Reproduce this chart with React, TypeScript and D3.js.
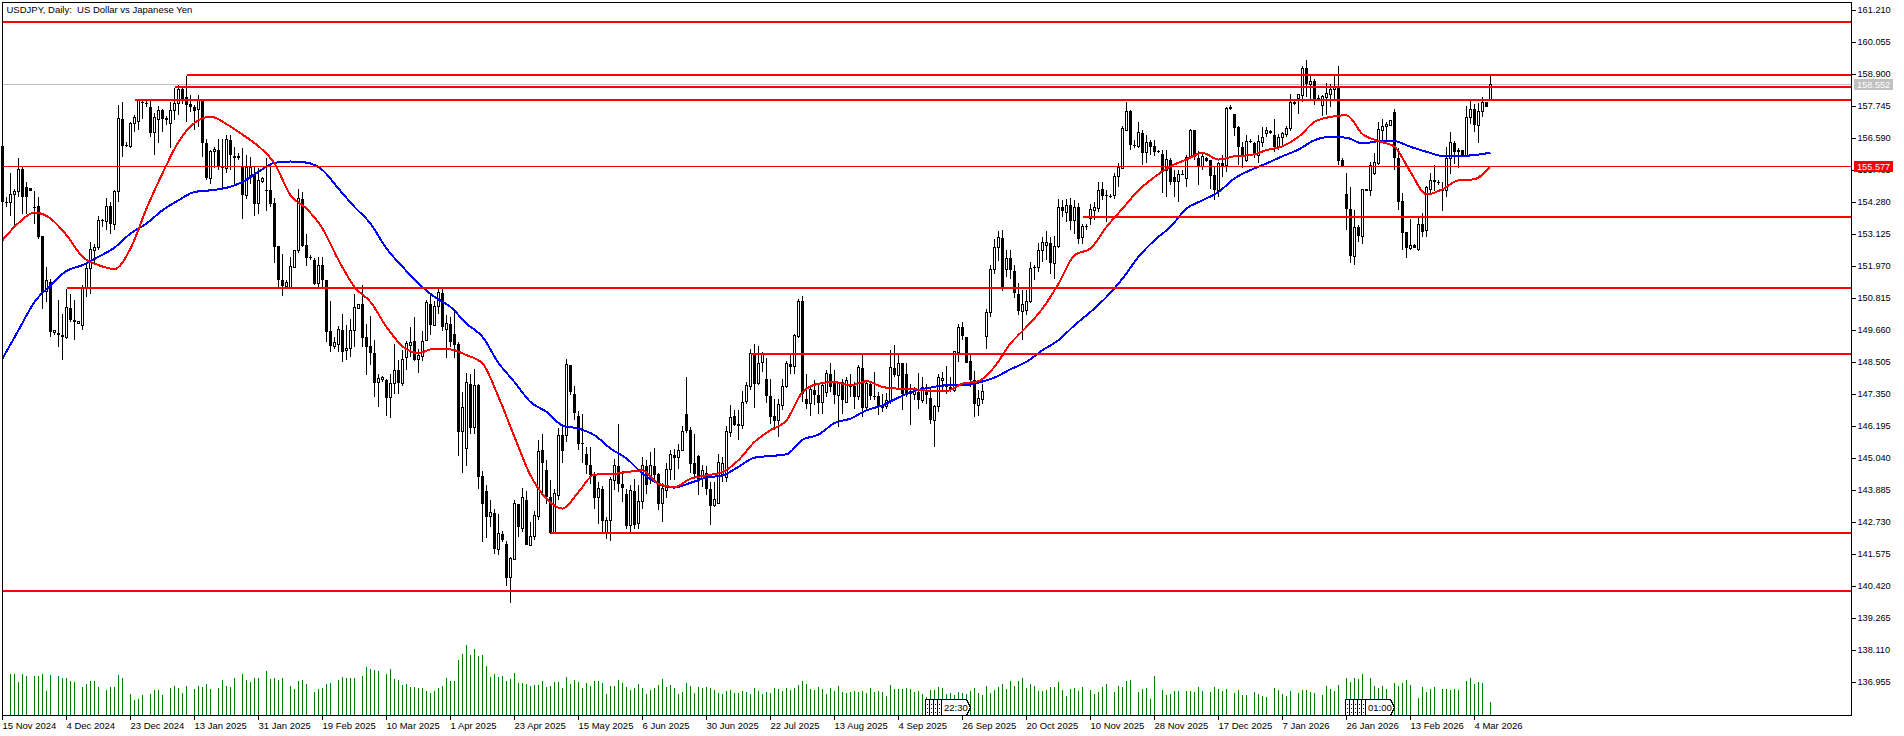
import { useEffect, useRef } from "react";
import * as d3 from "d3";

// open, high, low, close per daily bar
const ohlc: number[][] = [
  [156.31,156.31,154.18,154.30],[154.29,154.48,154.12,154.27],[154.28,155.33,153.78,154.57],[154.57,154.78,153.40,154.66],
  [154.66,155.87,154.48,155.48],[155.48,155.57,153.88,154.48],[154.84,155.02,153.88,154.48],[154.82,154.82,154.68,154.68],
  [154.13,154.70,153.52,154.11],[154.15,154.48,152.98,153.04],[153.06,153.06,150.45,151.05],[151.05,151.96,150.69,151.47],
  [151.41,151.53,149.43,149.61],[149.58,149.69,149.49,149.67],[149.58,150.75,149.07,149.51],[149.51,150.27,148.59,149.43],
  [149.40,151.17,149.37,150.49],[150.49,150.99,149.97,150.03],[150.05,150.75,149.31,149.96],[149.91,150.00,149.91,150.00],
  [149.85,151.29,149.67,151.17],[151.17,152.08,150.87,151.90],[151.90,152.86,150.99,152.58],[152.56,152.80,152.08,152.65],
  [152.65,153.78,152.56,153.64],[153.64,153.70,153.40,153.62],[153.58,154.46,153.28,154.15],[154.15,154.30,153.16,153.50],
  [153.50,154.72,153.28,154.69],[154.69,157.79,154.30,157.31],[157.31,157.91,155.93,156.32],[156.35,156.47,156.29,156.33],
  [156.29,157.19,156.26,157.13],[157.13,157.43,156.83,157.35],[157.19,158.03,156.89,157.97],[157.91,158.03,157.31,157.88],
  [157.86,157.97,157.73,157.84],[157.71,157.97,156.65,156.79],[156.79,157.51,155.99,157.35],[157.28,157.76,156.43,157.61],
  [157.63,157.67,156.83,157.30],[157.33,157.40,157.07,157.25],[157.13,157.91,156.23,157.59],[157.59,158.43,157.25,157.85],
  [157.85,158.51,157.43,158.37],[158.37,158.43,157.85,158.03],[158.09,158.84,157.19,157.80],[157.83,158.15,157.55,157.71],
  [157.71,157.79,156.89,157.59],[157.64,158.15,157.01,157.97],[157.97,158.03,155.93,156.43],[156.43,156.59,155.08,155.17],
  [155.15,156.17,154.96,156.11],[156.11,156.29,155.51,156.19],[156.19,156.59,155.45,155.59],[155.59,156.59,154.82,155.51],
  [155.51,156.71,155.35,156.56],[156.55,156.71,155.45,155.99],[155.97,156.29,154.87,155.90],[155.95,156.05,155.81,155.90],
  [155.60,156.23,153.70,154.54],[154.54,155.99,154.39,155.53],[155.27,155.93,154.96,155.53],[155.27,155.57,153.78,154.24],
  [154.24,155.51,153.88,155.08],[155.05,155.20,154.99,155.15],[154.73,155.87,153.98,154.71],[154.73,155.69,154.12,154.22],
  [154.27,154.46,152.10,152.68],[152.70,152.70,151.23,151.50],[151.50,152.41,150.90,151.26],[151.26,151.47,151.23,151.40],
  [151.23,152.32,151.21,151.96],[151.93,152.58,151.90,152.56],[152.56,154.78,152.44,154.42],[154.42,154.65,152.68,152.70],
  [152.74,153.13,151.98,152.29],[152.30,152.38,152.20,152.28],[152.22,152.26,151.29,151.35],[151.35,152.32,151.23,152.02],
  [152.02,152.32,151.23,151.47],[151.47,151.47,149.25,149.61],[149.63,150.72,148.89,149.09],[149.10,149.43,149.01,149.22],
  [149.16,149.83,148.89,149.69],[149.69,150.27,148.53,148.89],[148.94,149.85,148.59,149.01],[149.01,150.09,148.71,149.67],
  [149.67,150.96,149.07,150.49],[150.47,150.63,150.45,150.60],[150.63,151.29,149.07,149.39],[149.43,149.91,148.04,149.07],
  [149.09,150.17,148.41,148.85],[148.86,149.31,147.26,147.77],[147.77,148.10,146.90,147.92],[147.90,148.01,147.80,147.98],
  [147.89,147.92,146.57,147.23],[147.23,148.10,146.50,147.74],[147.74,149.16,147.38,148.22],[148.22,148.59,147.36,147.77],
  [147.74,148.95,147.65,148.61],[148.68,149.28,148.25,149.19],[149.12,149.79,148.71,149.21],[149.27,150.13,148.56,148.61],
  [148.63,149.01,148.13,148.75],[148.73,149.65,148.56,149.27],[149.31,150.75,149.28,150.67],[150.63,150.97,149.49,149.85],
  [149.83,150.73,149.81,150.54],[150.51,151.17,150.27,151.03],[151.03,151.17,149.63,149.79],[149.69,150.21,148.68,149.91],
  [149.91,150.15,149.07,149.25],[149.55,150.45,148.65,149.13],[149.19,149.25,145.12,146.00],[146.00,147.44,144.52,146.88],
  [145.40,148.14,144.76,147.78],[147.72,148.10,145.94,146.13],[146.16,148.26,145.94,147.68],[147.68,147.74,143.95,144.37],
  [144.40,144.58,142.03,143.39],[143.86,144.07,142.17,142.93],[142.93,143.53,142.57,143.09],[143.09,143.23,141.58,141.76],
  [141.75,143.05,141.57,142.33],[142.33,142.41,142.03,142.09],[141.97,142.06,140.44,140.74],[140.74,141.49,139.83,141.42],
  [141.40,143.55,141.37,143.41],[143.41,143.41,142.21,142.55],[142.53,143.99,142.39,143.63],[143.53,143.87,141.91,141.93],
  [141.91,142.75,141.87,142.21],[142.21,143.15,142.11,142.97],[142.93,145.72,142.83,145.28],[145.36,145.92,143.71,144.88],
  [144.61,144.98,143.41,143.65],[143.65,144.25,142.33,142.35],[142.35,143.95,142.33,143.77],[143.69,146.15,143.53,145.88],
  [145.88,146.18,144.86,145.31],[145.86,148.62,145.64,148.43],[148.43,148.43,147.32,147.44],[147.38,147.65,146.42,146.68],
  [146.59,146.76,145.34,145.58],[145.61,146.64,144.88,145.57],[145.19,145.46,144.47,144.79],[144.82,145.46,144.13,144.43],
  [144.43,144.55,143.23,143.62],[143.62,144.19,142.69,143.95],[143.95,144.04,142.33,142.79],[142.35,142.93,142.15,142.79],
  [142.79,144.37,142.06,144.28],[144.23,145.04,143.89,144.77],[144.77,146.28,143.83,144.13],[144.13,144.59,143.47,143.98],
  [143.75,143.95,142.51,142.59],[142.63,144.07,142.39,143.89],[143.86,144.31,142.51,142.63],[142.69,144.07,142.51,143.50],
  [143.47,145.10,143.23,144.79],[144.77,144.98,143.77,144.10],[144.37,145.28,144.13,144.77],[144.77,145.43,144.31,144.46],
  [144.47,144.50,143.17,143.41],[143.41,144.16,142.75,143.95],[143.89,144.86,143.63,144.64],[144.64,145.36,144.28,145.18],
  [145.18,145.40,144.28,145.06],[145.06,145.58,144.67,145.34],[145.34,146.20,145.31,146.00],[146.63,147.98,145.96,146.03],
  [146.06,146.18,144.50,144.83],[144.86,145.94,144.35,144.47],[145.12,145.16,143.71,144.31],[144.31,144.80,144.01,144.59],
  [144.50,144.76,143.71,143.95],[143.95,144.19,142.65,143.33],[143.33,144.19,143.29,143.56],[143.41,145.22,143.39,144.89],
  [144.43,145.10,144.19,144.86],[144.35,146.20,144.19,146.00],[145.97,146.96,145.80,146.52],[146.57,146.78,146.20,146.24],
  [146.30,146.78,145.72,146.22],[146.22,147.48,146.12,147.06],[147.08,147.80,147.02,147.68],[147.65,149.01,147.50,148.83],
  [148.80,149.16,146.88,147.74],[147.74,149.09,147.71,148.47],[148.49,148.89,148.17,148.83],[147.92,148.65,147.05,147.30],
  [147.29,147.92,146.28,146.52],[146.57,147.20,146.06,146.40],[146.40,147.20,145.82,146.99],[146.94,147.92,146.80,147.65],
  [147.65,148.56,147.60,148.47],[148.44,148.80,148.10,148.35],[148.35,149.55,148.10,149.49],[149.43,150.81,149.40,150.72],
  [150.72,150.90,147.08,147.38],[147.20,148.10,146.84,147.02],[147.02,147.68,146.57,147.53],[147.53,147.86,146.96,147.32],
  [147.32,147.68,146.66,147.05],[147.05,147.80,146.66,147.68],[147.42,148.25,147.26,148.10],[148.10,148.50,147.44,147.62],
  [147.77,148.22,147.02,147.32],[147.32,147.80,146.18,147.74],[147.80,147.92,146.66,147.14],[147.07,147.98,147.05,147.84],
  [147.71,148.08,147.26,147.62],[147.65,147.80,146.84,147.26],[147.26,148.41,147.14,148.31],[148.31,148.77,146.54,146.88],
  [146.88,147.86,146.84,147.74],[147.74,147.80,147.14,147.29],[147.31,148.18,147.14,147.26],[147.31,147.44,146.60,146.92],
  [146.96,147.38,146.72,146.88],[146.90,147.41,146.84,147.14],[147.08,148.95,147.02,148.31],[148.31,149.13,147.98,148.04],
  [148.02,148.80,147.53,148.47],[148.47,148.50,146.78,147.36],[148.10,148.47,147.26,147.41],[147.48,147.74,146.24,147.38],
  [147.36,147.62,147.14,147.50],[147.44,148.13,146.84,147.14],[147.14,147.98,147.05,147.62],[147.50,147.74,146.99,147.32],
  [147.24,147.62,146.30,146.42],[146.42,146.96,145.46,146.90],[146.90,148.10,146.72,147.96],[147.86,148.16,147.50,147.92],
  [147.71,148.37,147.38,147.62],[147.62,147.98,147.44,147.53],[147.50,148.92,147.44,148.89],[148.85,149.91,148.53,149.77],
  [149.77,149.95,149.33,149.45],[149.43,149.43,148.47,148.50],[148.55,148.77,147.62,147.86],[147.86,148.20,146.54,146.99],
  [146.96,147.50,146.57,147.20],[147.17,147.74,146.99,147.47],[149.43,150.45,149.01,150.31],[150.31,152.02,150.15,151.86],
  [151.86,152.98,151.69,152.65],[152.65,153.26,152.17,153.01],[153.01,153.28,151.09,151.14],[151.86,152.58,151.60,152.26],
  [152.26,152.58,151.53,151.83],[151.81,152.02,150.85,151.02],[150.99,151.38,150.21,150.37],[150.33,151.11,149.33,150.61],
  [150.37,151.11,150.21,150.69],[150.69,152.14,150.67,151.90],[151.96,152.02,151.47,151.91],[151.92,152.82,151.77,152.53],
  [152.53,153.04,152.14,152.82],[152.71,153.24,152.22,152.82],[152.82,153.04,151.71,152.08],[152.08,153.06,151.53,152.68],
  [152.68,154.42,152.65,154.10],[154.10,154.36,153.76,153.98],[153.92,154.42,153.58,154.18],[154.18,154.46,153.28,153.62],
  [153.64,154.36,153.16,154.10],[154.12,154.27,152.80,152.98],[153.01,153.50,152.77,153.40],[153.43,153.50,153.30,153.41],
  [153.70,154.24,153.46,154.03],[154.00,154.30,153.64,154.10],[154.06,155.02,153.94,154.72],[154.75,155.02,154.36,154.52],
  [154.54,154.72,153.58,154.52],[154.53,154.60,154.46,154.48],[154.52,155.35,154.42,155.23],[155.21,155.69,154.84,155.53],
  [155.51,157.03,155.48,156.95],[156.89,157.89,156.87,157.55],[157.58,157.61,156.19,156.35],[156.35,156.53,156.26,156.33],
  [156.29,157.19,156.23,156.80],[156.80,156.89,155.63,156.07],[156.07,156.71,155.69,156.44],[156.46,156.53,155.99,156.29],
  [156.31,156.55,155.95,156.11],[156.13,156.17,156.05,156.11],[156.02,156.17,154.63,155.42],[155.42,156.17,154.48,155.83],
  [155.83,155.87,154.90,155.02],[155.20,155.44,154.48,155.02],[155.05,155.47,154.30,155.30],[155.31,155.44,155.26,155.29],
  [155.15,155.99,154.84,155.90],[155.90,156.95,155.87,156.89],[156.89,156.91,155.81,155.93],[155.90,156.14,154.90,155.57],
  [155.57,156.11,155.45,155.93],[155.87,155.93,155.75,155.78],[155.81,155.83,154.78,155.24],[155.27,155.59,154.36,154.72],
  [154.72,155.75,154.48,155.69],[155.69,155.99,155.20,155.57],[155.60,157.73,155.38,157.67],[157.71,157.79,157.61,157.67],
  [157.47,157.49,156.67,156.97],[157.01,157.03,155.63,156.29],[156.29,156.47,155.54,155.93],[155.78,156.71,155.75,156.47],
  [156.50,156.59,156.43,156.47],[156.43,156.47,155.87,155.99],[155.99,156.71,155.69,156.47],[156.44,157.01,156.29,156.62],
  [156.77,157.01,156.65,156.87],[156.87,156.91,156.75,156.79],[156.71,157.28,156.11,156.29],[156.29,156.77,156.17,156.62],
  [156.62,156.83,156.29,156.77],[156.75,157.03,156.65,156.95],[156.95,158.19,156.87,157.89],[157.89,157.97,157.79,157.85],
  [158.03,158.21,157.49,158.18],[158.15,159.20,157.91,159.12],[159.12,159.44,158.09,158.57],[158.54,158.84,157.97,158.64],
  [158.66,158.72,157.79,158.03],[158.06,158.15,157.97,158.04],[157.79,158.15,157.40,158.12],[158.07,158.60,157.43,158.21],
  [158.19,158.55,157.73,158.36],[158.36,158.84,157.97,158.43],[158.45,159.21,155.63,155.78],[155.81,155.87,155.59,155.59],
  [154.60,155.33,153.28,154.06],[154.06,154.84,152.08,152.34],[152.34,154.02,152.02,153.38],[153.38,153.46,152.86,153.06],
  [153.06,154.75,152.80,154.75],[154.76,154.78,154.70,154.70],[154.70,155.75,154.51,155.60],[155.33,156.07,155.26,155.72],
  [155.69,157.19,155.63,156.91],[156.89,157.31,156.53,157.03],[157.01,157.19,156.47,157.11],[157.07,157.23,157.07,157.23],
  [157.55,157.64,155.47,155.87],[155.87,156.26,154.00,154.30],[154.33,154.63,152.58,153.18],[153.22,153.22,152.26,152.62],
  [152.62,153.70,152.56,152.73],[152.73,152.77,152.62,152.63],[152.58,153.78,152.53,153.50],[153.50,153.90,153.04,153.22],
  [153.26,154.87,153.04,154.82],[154.76,155.33,154.54,155.08],[155.08,155.63,154.70,155.02],[155.03,155.11,154.90,155.01],
  [154.77,155.02,153.98,154.70],[154.70,156.29,154.48,155.87],[155.87,156.81,155.30,156.43],[156.43,156.50,155.66,156.11],
  [156.17,156.23,155.54,156.11],[156.17,156.19,155.95,155.97],[155.97,157.76,155.93,157.35],[157.35,157.97,157.11,157.64],
  [157.64,157.85,156.82,157.07],[157.07,157.88,156.43,157.58],[157.58,158.07,157.37,157.89],[157.89,157.91,157.71,157.73],
  [158.00,158.84,157.97,158.55],
];

// tick volume in thousands, one per bar
const volumes = [
  0,0,42,42,34,42,40,0,40,40,42,25,41,1,40,38,38,35,34,0,29,32,35,35,29,0,26,29,29,41,38,0,22,16,17,21,0,22,26,26,
  21,0,28,30,28,23,30,0,27,30,29,32,27,0,28,36,30,29,38,0,42,36,34,38,38,1,45,37,38,36,38,0,30,27,35,36,32,0,24,27,
  28,32,33,0,36,39,38,38,38,0,40,49,47,46,45,0,42,47,37,36,31,32,29,29,28,28,25,23,25,28,30,38,35,35,56,62,71,61,67,60,
  61,50,39,42,39,40,35,37,43,33,33,32,30,31,31,35,29,30,34,34,28,39,32,36,34,28,33,30,35,35,33,22,30,30,36,33,29,26,28,32,
  28,22,26,28,31,37,29,31,28,22,24,33,30,23,29,28,29,28,26,23,22,25,26,23,23,25,24,22,28,25,22,24,23,28,27,25,28,26,28,31,
  35,32,27,26,29,27,22,28,25,30,24,23,24,25,24,25,23,28,24,25,24,20,31,27,27,27,28,27,24,25,22,19,26,26,29,28,22,23,21,24,
  23,22,25,28,23,21,30,23,26,29,32,27,35,30,35,38,28,32,30,25,25,26,29,29,34,26,20,27,28,25,29,0,26,22,24,29,32,0,24,30,
  29,35,36,0,24,27,28,17,40,0,26,21,22,25,25,0,25,25,24,29,25,0,24,29,27,25,27,0,23,26,21,21,0,24,22,20,19,0,28,26,
  22,20,25,0,23,26,26,24,23,0,21,30,27,25,31,0,38,34,38,37,42,0,38,30,28,30,27,0,33,30,33,36,31,0,18,29,24,27,29,0,
  27,27,26,27,26,0,35,38,32,34,33,1,14,
];

// moving averages read every fourth bar
const maStep = 4;
const fastMa = [
  152.92,153.54,153.92,153.70,153.10,152.32,152.02,151.88,152.62,154.06,155.33,156.47,157.15,157.38,157.11,156.73,
  156.31,155.69,154.54,154.06,153.34,152.20,151.23,150.69,149.79,149.09,148.85,149.01,148.98,148.77,148.47,147.26,
  145.82,144.43,143.59,143.23,143.83,144.46,144.47,144.55,144.61,144.13,144.01,144.31,144.43,144.55,144.98,145.64,
  146.06,146.42,147.44,147.74,147.80,147.68,147.83,147.62,147.56,147.54,147.48,147.48,147.74,147.83,148.35,149.19,
  149.79,150.45,151.35,152.38,152.62,153.40,154.06,154.72,155.20,155.59,155.83,156.07,155.83,155.95,155.99,156.17,
  156.31,156.65,157.19,157.37,157.43,156.75,156.50,156.29,155.38,154.57,154.76,155.08,155.12,155.60,
];
const slowMa = [
  148.65,149.67,150.69,151.29,151.81,152.02,152.32,152.65,153.16,153.52,154.00,154.36,154.66,154.72,154.81,155.02,
  155.39,155.71,155.76,155.72,155.45,154.78,154.12,153.52,152.62,151.96,151.35,150.87,150.51,149.91,149.43,148.49,
  147.80,147.08,146.72,146.23,146.12,145.88,145.40,145.04,144.50,144.13,143.99,144.16,144.35,144.43,144.74,145.07,
  145.13,145.19,145.72,145.90,146.32,146.48,146.78,146.96,147.24,147.48,147.60,147.68,147.68,147.78,147.96,148.26,
  148.53,148.95,149.31,149.85,150.33,150.87,151.53,152.32,152.92,153.40,154.06,154.36,154.66,155.15,155.45,155.69,
  155.95,156.19,156.53,156.65,156.62,156.41,156.49,156.49,156.29,156.11,155.96,155.96,155.99,156.08,
];

// horizontal levels and the bar each one starts at
const levelPrices = [160.79, 158.88, 158.44, 157.97, 153.75, 151.18, 148.80, 142.35, 140.25];
const levelStarts = [-1, 46, 43, 33, 270, 16, 187, 137, -1];
const bidPrice = 158.552;
const linePrice = 155.577;

const priceTicks = [
  161.21,160.055,158.9,157.745,156.59,155.435,154.28,153.125,151.97,150.815,149.66,148.505,
  147.35,146.195,145.04,143.885,142.73,141.575,140.42,139.265,138.11,136.955,
];
const dateLabels = [
  "15 Nov 2024","4 Dec 2024","23 Dec 2024","13 Jan 2025","31 Jan 2025","19 Feb 2025","10 Mar 2025","1 Apr 2025",
  "23 Apr 2025","15 May 2025","6 Jun 2025","30 Jun 2025","22 Jul 2025","13 Aug 2025","4 Sep 2025","26 Sep 2025",
  "20 Oct 2025","10 Nov 2025","28 Nov 2025","17 Dec 2025","7 Jan 2026","26 Jan 2026","13 Feb 2026","4 Mar 2026",
];
const dateStep = 16;

// session markers drawn over the volume panel
const markerStarts = [231, 336];
const markerStubs = [4, 5];
const markerTexts = ["22:30", "01:00"];

const fontFamily = "'Liberation Sans', sans-serif";

export default function App() {
  const containerRef = useRef<HTMLDivElement | null>(null);

  useEffect(() => {
    if (!containerRef.current) return;

    const r = containerRef.current;
    r.innerHTML = "";

    const width = 1904;
    const height = 736;
    const left = 2.5;
    const right = 1851.5;
    const top = 2.5;
    const bottom = 715.5;

    const svg = d3.select(r)
      .append("svg")
      .attr("width", width)
      .attr("height", height)
      .style("position", "absolute")
      .style("left", 0)
      .style("top", 0)
      .style("background", "#fff");

    const x = d3.scaleLinear().domain([0, 372]).range([2.5, 1490.5]);
    const y = d3.scaleLinear().domain([136.955, 161.21]).range([682.5, 10.5]);
    const v = d3.scaleLinear().domain([0, 71]).range([bottom, bottom - 71]);

    const crisp = (sel: any) => sel.attr("shape-rendering", "crispEdges");

    // bid line
    svg.append("line")
      .attr("x1", left).attr("x2", right)
      .attr("y1", y(bidPrice)).attr("y2", y(bidPrice))
      .attr("stroke", "#c0c0c0")
      .call(crisp);

    // volume
    svg.append("g")
      .selectAll("line")
      .data(volumes.map((d, i) => ({ d, i })).filter((e) => e.d > 0))
      .join("line")
      .attr("x1", (e) => x(e.i)).attr("x2", (e) => x(e.i))
      .attr("y1", bottom).attr("y2", (e) => v(e.d))
      .attr("stroke", "#008000")
      .call(crisp);

    // candles
    const candles = svg.append("g")
      .selectAll("g")
      .data(ohlc)
      .join("g")
      .call(crisp);

    candles.append("line")
      .attr("x1", (_, i) => x(i)).attr("x2", (_, i) => x(i))
      .attr("y1", (d) => y(d[1])).attr("y2", (d) => y(d[2]))
      .attr("stroke", "#000");

    candles.append("rect")
      .attr("x", (d, i) => x(i) - (d[3] >= d[0] ? 1 : 1.5))
      .attr("width", (d) => (d[3] >= d[0] ? 2 : 3))
      .attr("y", (d) => y(Math.max(d[0], d[3])))
      .attr("height", (d) => Math.max(1, Math.abs(y(d[0]) - y(d[3]))))
      .attr("fill", (d) => (d[3] >= d[0] ? "#fff" : "#000"))
      .attr("stroke", (d) => (d[3] >= d[0] ? "#000" : "none"));

    // moving averages
    const maLine = d3.line<number>()
      .x((_, i) => x(i * maStep))
      .y((d) => y(d))
      .curve(d3.curveMonotoneX);

    svg.append("path")
      .attr("d", maLine(slowMa))
      .attr("fill", "none").attr("stroke", "#0000ff").attr("stroke-width", 2)
      .call(crisp);
    svg.append("path")
      .attr("d", maLine(fastMa))
      .attr("fill", "none").attr("stroke", "#ff0000").attr("stroke-width", 2)
      .call(crisp);

    // levels
    svg.append("g")
      .selectAll("line")
      .data(levelPrices)
      .join("line")
      .attr("x1", (_, i) => (levelStarts[i] < 0 ? left : x(levelStarts[i])))
      .attr("x2", right)
      .attr("y1", (d) => y(d)).attr("y2", (d) => y(d))
      .attr("stroke", "#ff0000")
      .attr("stroke-width", 2)
      .call(crisp);

    svg.append("line")
      .attr("x1", left).attr("x2", right)
      .attr("y1", y(linePrice)).attr("y2", y(linePrice))
      .attr("stroke", "#ff0000")
      .call(crisp);

    // session markers
    markerStarts.forEach((start, m) => {
      const g = svg.append("g").call(crisp);
      const bx = x(start) - 1;
      const stubs = markerStubs[m];
      d3.range(stubs).forEach((s) => {
        g.append("rect")
          .attr("x", bx + s * 4).attr("y", bottom - 16)
          .attr("width", 4).attr("height", 16)
          .attr("fill", "#fff").attr("stroke", "#000");
        g.append("line")
          .attr("x1", bx + s * 4 + 2).attr("x2", bx + s * 4 + 2)
          .attr("y1", bottom - 12).attr("y2", bottom - 3)
          .attr("stroke", "#000").attr("stroke-dasharray", "1 3");
      });
      const fx = bx + stubs * 4;
      const fw = 29;
      g.append("path")
        .attr("d", `M${fx},${bottom - 16}H${fx + fw - 4}L${fx + fw},${bottom - 8}L${fx + fw - 4},${bottom}H${fx}Z`)
        .attr("fill", "#fff").attr("stroke", "#000");
      svg.append("text")
        .attr("x", fx + 2.5).attr("y", bottom - 4.5)
        .attr("font-family", fontFamily).attr("font-size", 9.5)
        .text(markerTexts[m]);
    });

    // frame
    svg.append("rect")
      .attr("x", left).attr("y", top)
      .attr("width", right - left).attr("height", bottom - top)
      .attr("fill", "none").attr("stroke", "#000")
      .call(crisp);

    // price axis
    const priceAxis = svg.append("g")
      .attr("transform", `translate(${right},0)`)
      .call(d3.axisRight(y).tickValues(priceTicks).tickFormat(d3.format(".3f") as any).tickSize(4).tickPadding(2).offset(0));
    priceAxis.select(".domain").remove();
    priceAxis.selectAll(".tick line").attr("stroke", "#000").call(crisp);
    priceAxis.selectAll("text")
      .attr("font-family", fontFamily).attr("font-size", 9.2).attr("fill", "#000");

    // date axis
    const dateAxis = svg.append("g")
      .attr("transform", `translate(0,${bottom})`)
      .call(d3.axisBottom(x)
        .tickValues(dateLabels.map((_, i) => i * dateStep))
        .tickFormat((_, i) => dateLabels[i])
        .tickSize(4).tickPadding(3).offset(0));
    dateAxis.select(".domain").remove();
    dateAxis.selectAll(".tick line").attr("stroke", "#000").call(crisp);
    dateAxis.selectAll("text")
      .attr("text-anchor", "start")
      .attr("font-family", fontFamily).attr("font-size", 9.5).attr("fill", "#000");

    // price tags
    const tag = (price: number, fill: string) => {
      const cy = y(price);
      svg.append("rect")
        .attr("x", 1854).attr("y", cy - 5.5)
        .attr("width", 39).attr("height", 11)
        .attr("fill", fill)
        .call(crisp);
      svg.append("text")
        .attr("x", 1857).attr("y", cy + 3.5)
        .attr("font-family", fontFamily).attr("font-size", 9.2).attr("fill", "#fff")
        .text(d3.format(".3f")(price));
    };
    tag(bidPrice, "#c0c0c0");
    tag(linePrice, "#ff0000");

    // title
    svg.append("text")
      .attr("x", 6.5).attr("y", 13)
      .attr("font-family", fontFamily).attr("font-size", 9.5).attr("fill", "#000")
      .attr("xml:space", "preserve")
      .style("white-space", "pre")
      .text("USDJPY, Daily:  US Dollar vs Japanese Yen");
  }, []);

  return <div ref={containerRef} />;
}
